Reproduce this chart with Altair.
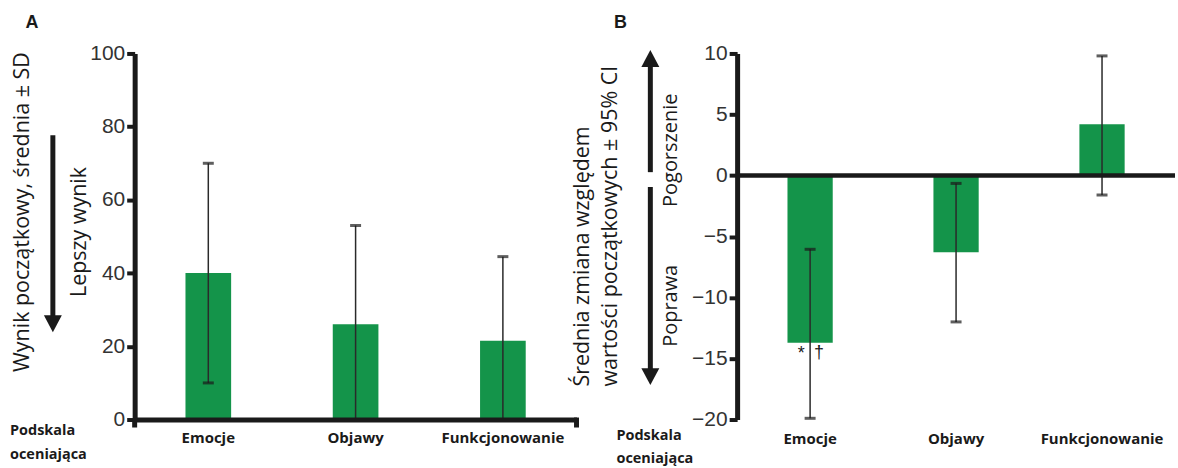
import altair as alt
import pandas as pd

# ---------------- data ----------------
categories = ["Emocje", "Objawy", "Funkcjonowanie"]

a_mean = [40.0, 26.0, 21.5]
a_sd = [30.0, 27.0, 23.0]
a_ticks = [0, 20, 40, 60, 80, 100]

b_mean = [-13.7, -6.3, 4.2]
b_ci_low = [-19.9, -12.0, -1.6]
b_ci_high = [-6.05, -0.65, 9.8]
b_ticks = [-20, -15, -10, -5, 0, 5, 10]
b_sig1 = ["*", "", ""]
b_sig2 = ["\u2020", "", ""]

# ---------------- style ----------------
GREEN = "#14944a"
INK = "#1a1a1a"
NUMC = "#333333"
FONT_NUM = "Liberation Sans"
FONT_TXT = "Open Sans"
TRI_DOWN = "M-0.9,-0.85L0.9,-0.85L0,0.85Z"
TRI_UP = "M-0.9,0.85L0.9,0.85L0,-0.85Z"

a_lo = [max(0.0, m - s) for m, s in zip(a_mean, a_sd)]
a_hi = [m + s for m, s in zip(a_mean, a_sd)]
a_cap_lo = [m - s if m - s > 0 else None for m, s in zip(a_mean, a_sd)]

df_a = pd.DataFrame({"cat": categories, "mean": a_mean, "lo": a_lo, "hi": a_hi, "cap_lo": a_cap_lo})
df_b = pd.DataFrame({"cat": categories, "mean": b_mean, "lo": b_ci_low, "hi": b_ci_high,
                     "s1": b_sig1, "s2": b_sig2})
one = pd.DataFrame({"k": [0]})


def xenc(pad):
    return alt.X("cat:N", sort=categories,
                 scale=alt.Scale(paddingInner=0.69, paddingOuter=0.345),
                 axis=alt.Axis(title=None, labelAngle=0, ticks=False,
                               domain=pad == "a", domainWidth=5, domainColor=INK,
                               labelFont=FONT_TXT, labelFontSize=15, labelFontWeight="bold",
                               labelColor=INK, labelPadding=11 if pad == "a" else 12,
                               labelBaseline="top", zindex=1))


def yaxis(vals):
    return alt.Axis(title=None, values=vals, grid=False, domainWidth=5, domainColor=INK,
                    tickWidth=4, tickSize=8, tickColor=INK, labelFont=FONT_NUM,
                    labelFontSize=21, labelColor=NUMC, labelPadding=2, zindex=1)


def txt(s, x, y, size=21.5, angle=0, align="center", weight="normal", font=FONT_TXT):
    return alt.Chart(one).mark_text(
        text=s, fontSize=size, angle=angle, align=align, baseline="middle",
        font=font, fontWeight=weight, color=INK
    ).encode(x=alt.value(x), y=alt.value(y))


def shaft(x, y1, y2):
    return alt.Chart(one).mark_rule(color=INK, strokeWidth=5).encode(
        x=alt.value(x), y=alt.value(y1), y2=alt.value(y2))


def head(x, y, shape):
    return alt.Chart(one).mark_point(shape=shape, size=400, filled=True, color=INK,
                                     opacity=1, strokeWidth=0).encode(
        x=alt.value(x), y=alt.value(y))


def anchor(x1, x2, y1, y2):
    return alt.Chart(one).mark_rect(opacity=0).encode(
        x=alt.value(x1), x2=alt.value(x2), y=alt.value(y1), y2=alt.value(y2))


# ---------------- panel A ----------------
WA, H = 443, 367
ya = alt.Y("mean:Q", scale=alt.Scale(domain=[0, 100], nice=False), axis=yaxis(a_ticks))
base_a = alt.Chart(df_a)
bars_a = base_a.mark_bar(color=GREEN).encode(x=xenc("a"), y=ya)
err_a = base_a.mark_rule(color="#2a2a2a", strokeWidth=1.5).encode(
    x=alt.X("cat:N", sort=categories), y="lo:Q", y2="hi:Q")
cap_hi_a = base_a.mark_tick(color=INK, thickness=3, size=11).encode(
    x=alt.X("cat:N", sort=categories), y="hi:Q")
cap_lo_a = base_a.transform_filter("isValid(datum.cap_lo)").mark_tick(
    color=INK, thickness=3, size=11).encode(x=alt.X("cat:N", sort=categories), y="cap_lo:Q")
end_ticks_a = alt.layer(
    alt.Chart(one).mark_rule(color=INK, strokeWidth=5).encode(
        x=alt.value(0), y=alt.value(H), y2=alt.value(H + 8)),
    alt.Chart(one).mark_rule(color=INK, strokeWidth=5).encode(
        x=alt.value(WA), y=alt.value(H - 2), y2=alt.value(H + 8)),
)

panel_a = alt.layer(
    anchor(-135, 0, -53, 0),
    bars_a, err_a, cap_hi_a, cap_lo_a, end_ticks_a,
    txt("A", -103, -31, size=18, weight="bold", font=FONT_NUM),
    txt("Wynik początkowy, średnia ± SD", -112, 159, angle=270),
    txt("Lepszy wynik", -55, 179, angle=270),
    shaft(-82, 82, 264),
    head(-82, 271, TRI_DOWN),
    txt("Podskala", -125, 379, size=14.5, align="left", weight="bold"),
    txt("oceniająca", -125, 403, size=14.5, align="left", weight="bold"),
).properties(width=WA, height=H)

# ---------------- panel B ----------------
WB = 439
yb = alt.Y("mean:Q", scale=alt.Scale(domain=[-20, 10], nice=False), axis=yaxis(b_ticks))
base_b = alt.Chart(df_b)
bars_b = base_b.mark_bar(color=GREEN).encode(x=xenc("b"), y=yb)
zero_b = alt.Chart(one).mark_rule(color=INK, strokeWidth=4.5).encode(y=alt.datum(0))
err_b = base_b.mark_rule(color="#2a2a2a", strokeWidth=1.5).encode(
    x=alt.X("cat:N", sort=categories), y="lo:Q", y2="hi:Q")
cap_hi_b = base_b.mark_tick(color=INK, thickness=3, size=11).encode(
    x=alt.X("cat:N", sort=categories), y="hi:Q")
cap_lo_b = base_b.mark_tick(color=INK, thickness=3, size=11).encode(
    x=alt.X("cat:N", sort=categories), y="lo:Q")
sig1_b = base_b.mark_text(fontSize=18, baseline="top", dx=-9, dy=2, color=INK,
                          font=FONT_NUM).encode(
    x=alt.X("cat:N", sort=categories), y="mean:Q", text="s1:N")
sig2_b = base_b.mark_text(fontSize=18, baseline="top", dx=9, dy=1, color=INK,
                          font=FONT_NUM).encode(
    x=alt.X("cat:N", sort=categories), y="mean:Q", text="s2:N")

panel_b = alt.layer(
    anchor(0, WB, 0, 415),
    bars_b, err_b, cap_hi_b, cap_lo_b, zero_b, sig1_b, sig2_b,
    txt("B", -117, -31, size=18, weight="bold", font=FONT_NUM),
    txt("Średnia zmiana względem", -154, 334, angle=270, align="left"),
    txt("wartości początkowych ± 95% CI", -126, 334, angle=270, align="left"),
    shaft(-87, 119, 12),
    head(-87, 5, TRI_UP),
    shaft(-87, 134, 318),
    head(-87, 324, TRI_DOWN),
    txt("Pogorszenie", -66, 97, size=20, angle=270),
    txt("Poprawa", -66, 253, size=20, angle=270),
    txt("Podskala", -121, 384, size=14.5, align="left", weight="bold"),
    txt("oceniająca", -121, 407, size=14.5, align="left", weight="bold"),
).properties(width=WB, height=H)

chart = alt.hconcat(panel_a, panel_b, spacing=161, bounds="flush").properties(
    padding=0
).configure_view(stroke=None)

chart.save("out.html", embed_options={"renderer": "svg", "actions": False})
